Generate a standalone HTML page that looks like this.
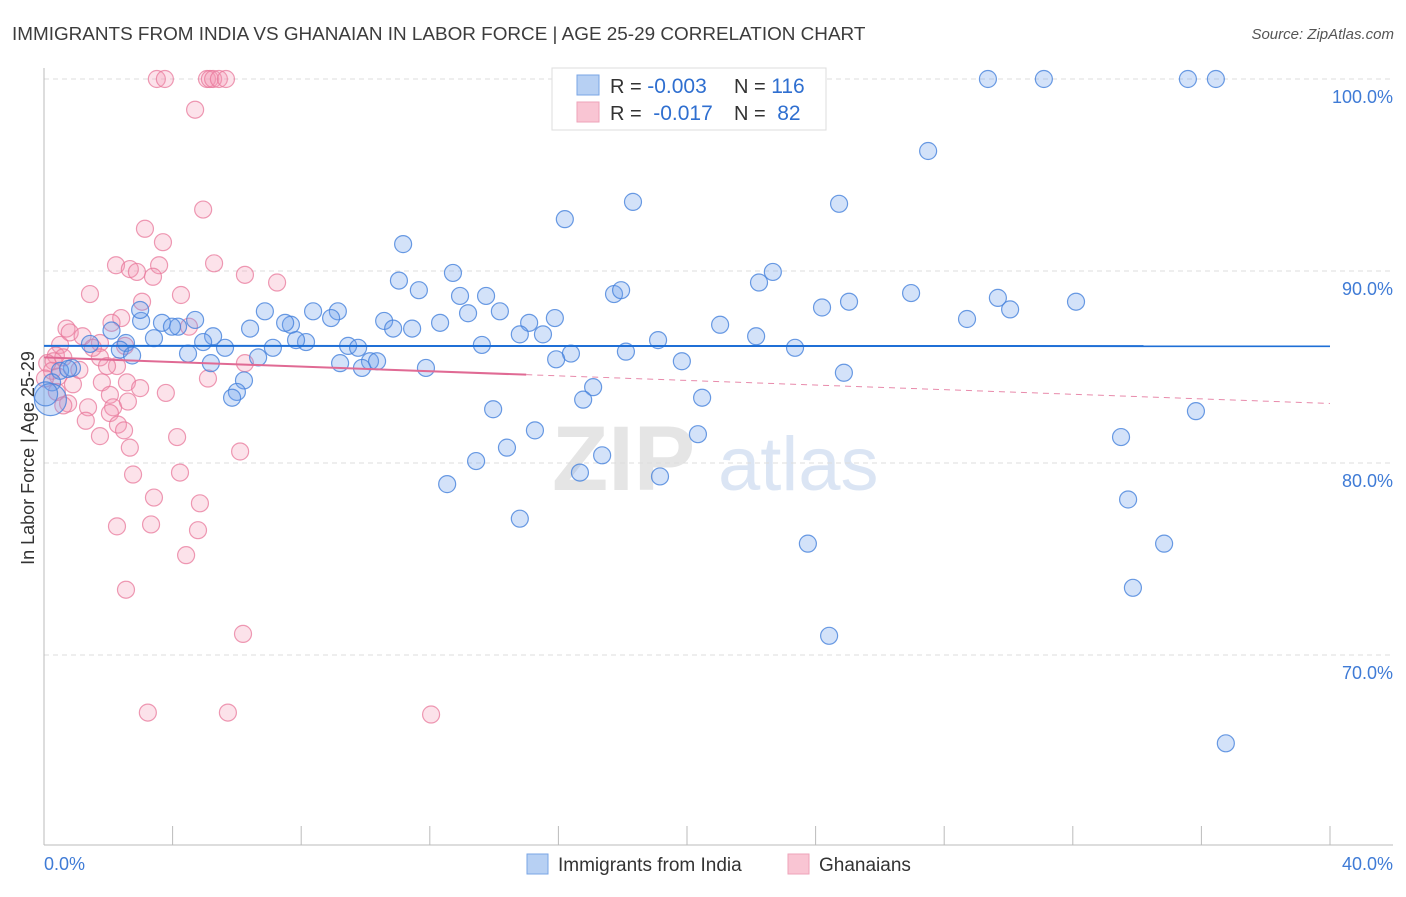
<!DOCTYPE html>
<html><head><meta charset="utf-8"><style>
body{margin:0;background:#fff;font-family:"Liberation Sans",sans-serif}
svg text{font-family:"Liberation Sans",sans-serif}
</style></head><body>
<svg id="chart" width="1406" height="892" xmlns="http://www.w3.org/2000/svg">
<text x="12" y="40" font-size="18.9" fill="#3c3c3c">IMMIGRANTS FROM INDIA VS GHANAIAN IN LABOR FORCE | AGE 25-29 CORRELATION CHART</text>
<text x="1394" y="39" font-size="15" fill="#555" font-style="italic" text-anchor="end">Source: ZipAtlas.com</text>
<g opacity="0.5">
<text x="552" y="490" font-size="92" font-family="Liberation Serif" fill="#ccc" font-weight="bold">ZIP</text>
<text x="718" y="490" font-size="76" fill="#b9cdea">atlas</text>
</g>
<g id="grid"></g>
<g id="axes"></g>
<g id="marks"></g>
<text transform="translate(34,458) rotate(-90)" font-size="18" fill="#333" text-anchor="middle">In Labor Force | Age 25-29</text>
<g>
<rect x="552" y="68" width="274" height="62" fill="#fff" stroke="#ddd"/>
<rect x="577" y="75" width="22" height="20" fill="#b7d0f3" stroke="#7aa6e6"/>
<rect x="577" y="102" width="22" height="20" fill="#f9c5d3" stroke="#eea3ba"/>
<text x="610" y="93" font-size="20" fill="#333">R = <tspan fill="#2f6fd0" font-size="21">-0.003</tspan></text>
<text x="734" y="93" font-size="20" fill="#333">N = <tspan fill="#2f6fd0" font-size="21">116</tspan></text>
<text x="610" y="120" font-size="20" fill="#333">R = <tspan fill="#2f6fd0" dx="6" font-size="21">-0.017</tspan></text>
<text x="734" y="120" font-size="20" fill="#333">N = <tspan fill="#2f6fd0" dx="6" font-size="21">82</tspan></text>
</g>
<g>
<rect x="527" y="854" width="21" height="20" fill="#b7d0f3" stroke="#7aa6e6"/>
<text x="558" y="871" font-size="19" fill="#333">Immigrants from India</text>
<rect x="788" y="854" width="21" height="20" fill="#f9c5d3" stroke="#eea3ba"/>
<text x="819" y="871" font-size="19" fill="#333">Ghanaians</text>
</g>
</svg>
<script>
const yTicks=[100,90,80,70];
const yTickLabels=["100.0%","90.0%","80.0%","70.0%"];
const xTickVals=[0,4,8,12,16,20,24,28,32,36,40];
const xEndLabels=["0.0%","40.0%"];
const blueX=[17.54,29.36,31.1,35.58,36.45,27.5,18.32,24.73,16.2,11.17,12.72,22.67,22.24,11.04,11.66,17.73,17.95,12.94,13.75,26.97,29.67,32.1,25.04,24.2,30.05,6.87,8.37,9.14,14.18,13.19,28.71,15.89,15.09,10.58,12.32,21.03,4.7,3.02,3.67,7.68,8.93,7.5,4.17,3.98,2.1,10.86,11.45,6.41,5.26,14.8,15.52,22.15,19.1,3.42,2.55,4.95,8.15,7.84,9.46,9.77,13.62,1.43,2.36,5.63,7.12,4.48,2.74,16.39,18.1,23.36,6.66,15.93,19.84,10.14,10.36,9.21,5.19,9.89,11.88,24.88,0.87,0.5,0.75,0.25,6.22,6.0,5.85,17.08,16.77,20.47,13.97,35.83,15.27,20.34,33.5,14.4,17.36,13.44,16.67,19.16,12.54,33.72,14.8,23.76,34.84,33.87,24.42,36.76,2.99,0.2,0.05];
const blueY=[99.8,100,100,100,100,96.25,93.6,93.5,92.7,91.4,89.9,89.95,89.4,89.5,89.0,88.8,89.0,88.7,88.7,88.85,88.6,88.4,88.4,88.1,88.0,87.9,87.9,87.9,87.9,87.8,87.5,87.55,87.3,87.4,87.3,87.2,87.45,87.4,87.3,87.2,87.55,87.3,87.1,87.1,86.9,87.0,87.0,87.0,86.6,86.7,86.7,86.6,86.4,86.5,86.25,86.3,86.3,86.4,86.1,86.0,86.15,86.2,85.9,86.0,86.0,85.7,85.6,85.7,85.8,86.0,85.5,85.4,85.3,85.3,85.3,85.2,85.2,84.95,84.95,84.7,84.95,84.8,84.9,84.2,84.3,83.7,83.4,83.95,83.3,83.4,82.8,82.7,81.7,81.5,81.35,80.8,80.4,80.1,79.5,79.3,78.9,78.1,77.1,75.8,75.8,73.5,71.0,65.4,87.97,83.3,83.6];
const pinkX=[3.51,3.76,5.07,5.16,5.26,5.44,5.66,4.7,4.95,3.14,3.7,2.24,2.67,2.89,3.58,5.29,6.25,7.25,1.43,4.26,3.39,3.05,2.4,0.7,0.8,2.1,4.51,1.2,1.74,0.5,2.52,1.52,0.37,0.6,1.74,2.27,1.96,0.3,0.1,0.25,6.25,0.44,0.03,5.1,1.8,0.9,2.58,2.99,3.79,2.05,0.4,0.75,1.37,2.15,2.61,2.05,1.3,2.3,1.74,2.49,4.14,2.67,6.1,2.77,4.23,3.42,4.85,2.27,3.33,4.79,4.42,2.55,6.19,3.23,5.72,12.04,0.6,1.1];
const pinkY=[100,100,100,100,100,100,100,98.4,93.2,92.2,91.5,90.3,90.1,89.95,90.3,90.4,89.8,89.4,88.8,88.75,89.7,88.4,87.55,87.0,86.8,87.3,87.1,86.6,86.25,86.15,86.1,86.0,85.6,85.5,85.5,85.05,85.05,85.3,85.2,84.8,85.2,84.5,84.4,84.4,84.2,84.1,84.2,83.9,83.65,83.55,83.7,83.1,82.9,82.9,83.2,82.6,82.2,82.0,81.4,81.7,81.35,80.8,80.6,79.4,79.5,78.2,77.9,76.7,76.8,76.5,75.2,73.4,71.1,67.0,67.0,66.9,83.0,84.85];
const blueTrend=[86.1,-0.0003];
const pinkTrend=[85.5,-0.06];
const pinkSolidEnd=15;

const X0=44,X1=1330,Y100=79,PXU=19.2;
const xs=v=>X0+(X1-X0)*v/40;
const ys=v=>Y100+(100-v)*PXU;
const NS="http://www.w3.org/2000/svg";
function mk(tag,attrs,parent){const e=document.createElementNS(NS,tag);for(const k in attrs)e.setAttribute(k,attrs[k]);parent.appendChild(e);return e;}
const grid=document.getElementById('grid'),axes=document.getElementById('axes'),marks=document.getElementById('marks');
yTicks.forEach((t,i)=>{
 const l=mk('line',{x1:X0,x2:1393,y1:ys(t),y2:ys(t),stroke:'#ddd','stroke-dasharray':'5,4'},grid);
 
 
 const tx=mk('text',{x:1393,y:ys(t)+24,'font-size':18,fill:'#3f7bd6','text-anchor':'end'},grid);
 tx.textContent=yTickLabels[i];
 
 
});
const ya=mk('line',{x1:X0,x2:X0,y1:68,y2:845,stroke:'#bbb'},axes);


const xa=mk('line',{x1:X0,x2:1393,y1:845,y2:845,stroke:'#bbb'},axes);


xTickVals.forEach(v=>{
 const t=mk('line',{x1:xs(v),x2:xs(v),y1:826,y2:845,stroke:'#bbb'},axes);
 
 
});
const xl0=mk('text',{x:44,y:870,'font-size':18,fill:'#3f7bd6'},axes);xl0.textContent=xEndLabels[0];


const xl1=mk('text',{x:1393,y:870,'font-size':18,fill:'#3f7bd6','text-anchor':'end'},axes);xl1.textContent=xEndLabels[1];


pinkX.forEach((x,i)=>{
 const c=mk('circle',{cx:xs(x),cy:ys(pinkY[i]),r:8.5,fill:'rgba(244,150,180,0.28)',stroke:'rgba(232,120,155,0.75)','stroke-width':1.2},marks);
 
 
});
blueX.forEach((x,i)=>{
 const c=mk('circle',{cx:xs(x),cy:ys(blueY[i]),r:i>=blueX.length-2?(i==blueX.length-2?16:12):8.5,fill:'rgba(110,160,235,0.3)',stroke:'rgba(70,130,220,0.8)','stroke-width':1.2},marks);
 
 
});
const bl=mk('line',{x1:xs(0),x2:xs(40),y1:ys(blueTrend[0]),y2:ys(blueTrend[0]+blueTrend[1]*40),stroke:'#1f6fd6','stroke-width':2},marks);


const pl=mk('line',{x1:xs(0),x2:xs(pinkSolidEnd),y1:ys(pinkTrend[0]),y2:ys(pinkTrend[0]+pinkTrend[1]*pinkSolidEnd),stroke:'#e06a94','stroke-width':2},marks);


const pd=mk('line',{x1:xs(pinkSolidEnd),x2:xs(40),y1:ys(pinkTrend[0]+pinkTrend[1]*pinkSolidEnd),y2:ys(pinkTrend[0]+pinkTrend[1]*40),stroke:'#e88aab','stroke-width':1,'stroke-dasharray':'6,5'},marks);


</script>
</body></html>
